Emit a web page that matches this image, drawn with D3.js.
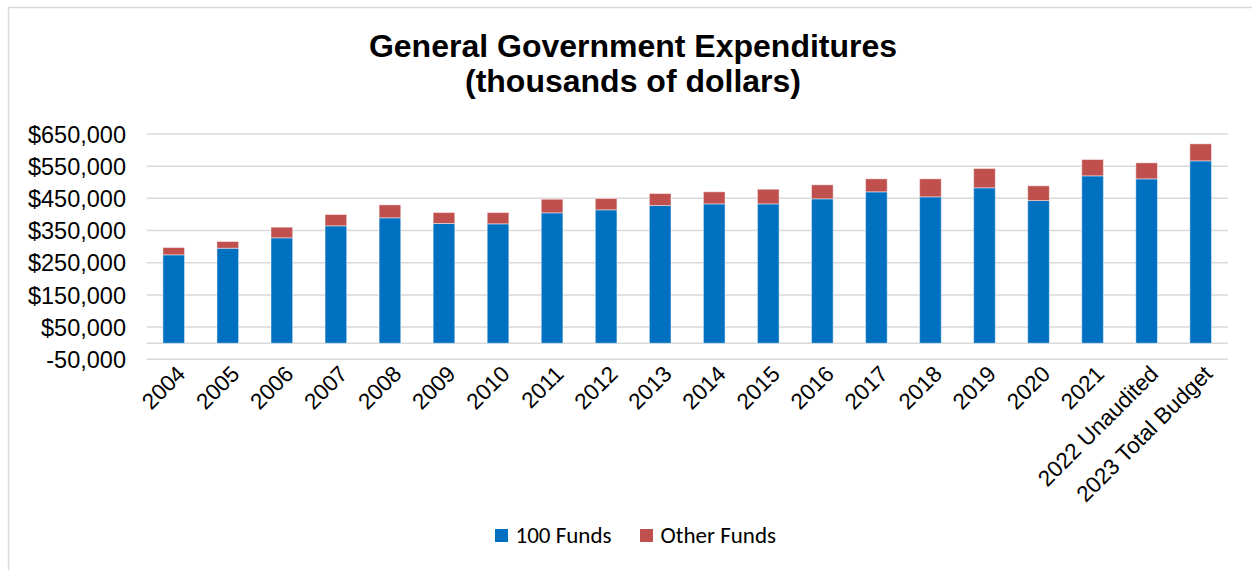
<!DOCTYPE html>
<html>
<head>
<meta charset="utf-8">
<script src="https://cdn.jsdelivr.net/npm/d3@7"></script>
<style>
  html, body { margin: 0; padding: 0; background: #ffffff; }
  svg { display: block; }
</style>
</head>
<body>
<svg id="chart" width="1252" height="570"></svg>
<script>
const categories = ["2004","2005","2006","2007","2008","2009","2010","2011","2012","2013","2014","2015","2016","2017","2018","2019","2020","2021","2022 Unaudited","2023 Total Budget"];
const funds100 = [274600,295100,327400,364700,389600,371900,370900,405100,414400,427800,433000,433000,448600,470300,454800,482800,443300,520000,510700,566600];
const otherFunds = [22700,20800,33000,35100,40300,34100,35100,42200,35100,37200,37300,45400,43500,40400,55900,59900,45700,50700,49700,52800];
const yTicks = [-50000,50000,150000,250000,350000,450000,550000,650000];
const seriesNames = ["100 Funds","Other Funds"];
const seriesColors = ["#0070C0","#C0504D"];
const titleLines = ["General Government Expenditures","(thousands of dollars)"];

const svg = d3.select("#chart");
const plot = {left: 146.7, right: 1227.7, top: 134, bottom: 359.3};

// outer border
svg.append("rect").attr("x", 8.5).attr("y", 7.5).attr("width", 1260).attr("height", 600)
  .attr("fill", "none").attr("stroke", "#d9d9d9").attr("stroke-width", 1.5);

const x = d3.scaleBand().domain(categories).range([plot.left, plot.right]).paddingInner(0.6).paddingOuter(0.3);
const y = d3.scaleLinear().domain([-50000, 650000]).range([plot.bottom, plot.top]);

// gridlines
svg.append("g").selectAll("line").data(yTicks.concat([0])).join("line")
  .attr("x1", plot.left).attr("x2", plot.right)
  .attr("y1", d => y(d)).attr("y2", d => y(d))
  .attr("stroke", "#d9d9d9").attr("stroke-width", 1.5);

// y axis labels
const yAxis = d3.axisLeft(y).tickValues(yTicks).tickSize(0).tickPadding(0)
  .tickFormat(d => d < 0 ? "-" + d3.format(",")(-d) : "$" + d3.format(",")(d));
const gy = svg.append("g").attr("transform", `translate(126,0)`).call(yAxis);
gy.select(".domain").remove();
gy.selectAll("text").attr("font-family", "'Liberation Sans', Arial, sans-serif")
  .attr("font-size", 23.5).attr("fill", "#000").attr("dy", "0.35em");

// stacked bars
const data = categories.map((c, i) => ({cat: c, a: funds100[i], b: otherFunds[i]}));
const stack = d3.stack().keys(["a","b"]);
const layers = stack(data);
svg.append("g").selectAll("g").data(layers).join("g")
  .attr("fill", (d, i) => seriesColors[i])
  .selectAll("rect").data(d => d).join("rect")
  .attr("x", d => x(d.data.cat))
  .attr("width", x.bandwidth())
  .attr("y", d => y(d[1]))
  .attr("height", d => y(d[0]) - y(d[1]))
  .attr("stroke", "rgba(255,255,255,0.45)").attr("stroke-width", 1);

// x axis labels
const xAxis = d3.axisBottom(x).tickSize(0).tickPadding(0);
const gx = svg.append("g").attr("transform", `translate(0,${y(-50000)})`).call(xAxis);
gx.select(".domain").remove();
gx.selectAll("text")
  .attr("font-family", "'Liberation Sans', Arial, sans-serif")
  .attr("font-size", 22.5).attr("fill", "#000")
  .attr("text-anchor", "end")
  .attr("transform", "translate(13,16) rotate(-45)")
  .attr("dy", 0).attr("y", 0).attr("x", 0);

// title
svg.append("text").attr("x", 633).attr("y", 57).attr("text-anchor", "middle")
  .attr("font-family", "'Liberation Sans', Arial, sans-serif").attr("font-weight", "bold")
  .attr("font-size", 32).attr("fill", "#000")
  .selectAll("tspan").data(titleLines).join("tspan")
  .attr("x", 633).attr("dy", (d, i) => i === 0 ? 0 : 35).text(d => d);

// legend
const legendItems = [{x: 495, name: seriesNames[0], color: seriesColors[0]}, {x: 640, name: seriesNames[1], color: seriesColors[1]}];
const lg = svg.append("g").selectAll("g").data(legendItems).join("g")
  .attr("transform", d => `translate(${d.x},529)`);
lg.append("rect").attr("width", 13).attr("height", 13).attr("fill", d => d.color);
lg.append("text").attr("x", 20.5).attr("y", 14)
  .attr("font-family", "Carlito, Lato, 'Open Sans', sans-serif").attr("font-size", 23).attr("fill", "#000")
  .text(d => d.name);
</script>
</body>
</html>
